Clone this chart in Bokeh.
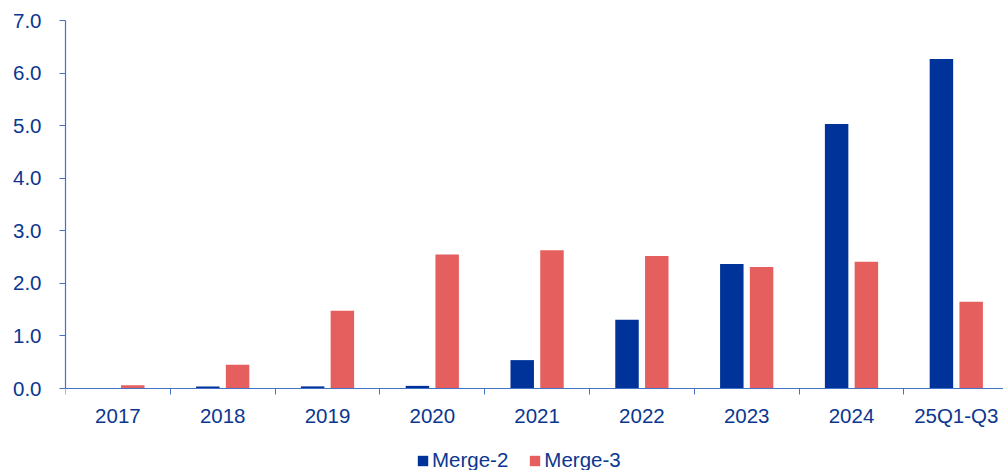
from bokeh.plotting import figure
from bokeh.models import ColumnDataSource, Range1d, FixedTicker, Legend, LegendItem, NumeralTickFormatter, LinearAxis
from bokeh.transform import dodge
from bokeh.embed import file_html
from bokeh.resources import INLINE

categories = ["2017", "2018", "2019", "2020", "2021", "2022", "2023", "2024", "25Q1-Q3"]
merge2 = [0.0, 0.04, 0.04, 0.05, 0.54, 1.31, 2.37, 5.03, 6.27]
merge3 = [0.06, 0.45, 1.48, 2.55, 2.63, 2.52, 2.31, 2.41, 1.65]
y_ticks = [0, 1, 2, 3, 4, 5, 6, 7]

BLUE = "#003399"
RED = "#E65F5F"
AXIS = "#4472C4"
TEXT = "#0B3790"
FONT = "Liberation Sans"

n = len(categories)
centers = [i + 0.5 for i in range(n)]
src = ColumnDataSource(dict(x=centers, m2=merge2, m3=merge3, cat=categories))

cat_px = 104.8
frame_w = 938
px_per_unit = 368 / 7.0
below_px = 82
p = figure(width=1003, height=470, output_backend="svg", toolbar_location=None,
           x_range=Range1d(0, frame_w / cat_px), y_range=Range1d(-below_px / px_per_unit, 7),
           min_border_left=65, min_border_right=0, min_border_top=20, min_border_bottom=0,
           x_axis_location=None, y_axis_location=None)
p.outline_line_color = None
p.xgrid.visible = False
p.ygrid.visible = False
p.background_fill_color = "white"
p.border_fill_color = "white"

bw = 0.224
r2 = p.vbar(x=dodge("x", -0.142), top="m2", width=bw, source=src, fill_color=BLUE, line_color=None)
r3 = p.vbar(x=dodge("x", 0.142), top="m3", width=bw, source=src, fill_color=RED, line_color=None)

# x axis at y=0: labels at centers, tick marks at category boundaries
xaxis = LinearAxis(ticker=FixedTicker(ticks=centers, minor_ticks=list(range(n + 1))), fixed_location=0)
xaxis.major_label_overrides = {c: lab for c, lab in zip(centers, categories)}
xaxis.major_tick_out = 0
xaxis.major_tick_in = 0
xaxis.minor_tick_out = 6
xaxis.minor_tick_in = 0
xaxis.minor_tick_line_color = AXIS
xaxis.axis_line_color = AXIS
xaxis.axis_line_width = 1.2
xaxis.major_label_standoff = 9
xaxis.major_label_text_font = FONT
xaxis.major_label_text_font_size = "20.5px"
xaxis.major_label_text_color = TEXT
p.add_layout(xaxis, "below")

yaxis = LinearAxis(ticker=FixedTicker(ticks=y_ticks, minor_ticks=[]), bounds=(0, 7))
yaxis.formatter = NumeralTickFormatter(format="0.0")
yaxis.major_tick_out = 6
yaxis.major_tick_in = 0
yaxis.major_tick_line_color = AXIS
yaxis.axis_line_color = AXIS
yaxis.axis_line_width = 1.2
yaxis.major_label_standoff = 18
yaxis.major_label_text_font = FONT
yaxis.major_label_text_font_size = "20.5px"
yaxis.major_label_text_color = TEXT
p.add_layout(yaxis, "left")

legend = Legend(items=[LegendItem(label="Merge-2", renderers=[r2]),
                       LegendItem(label="Merge-3", renderers=[r3])],
                location=(351, -2), orientation="horizontal",
                glyph_width=13, glyph_height=13, label_standoff=3, spacing=20,
                padding=0, margin=0, border_line_alpha=0, background_fill_alpha=0,
                label_text_font=FONT, label_text_font_size="20.5px", label_text_color=TEXT)
p.add_layout(legend, "center")

open("out.html", "w").write(file_html(p, INLINE))
